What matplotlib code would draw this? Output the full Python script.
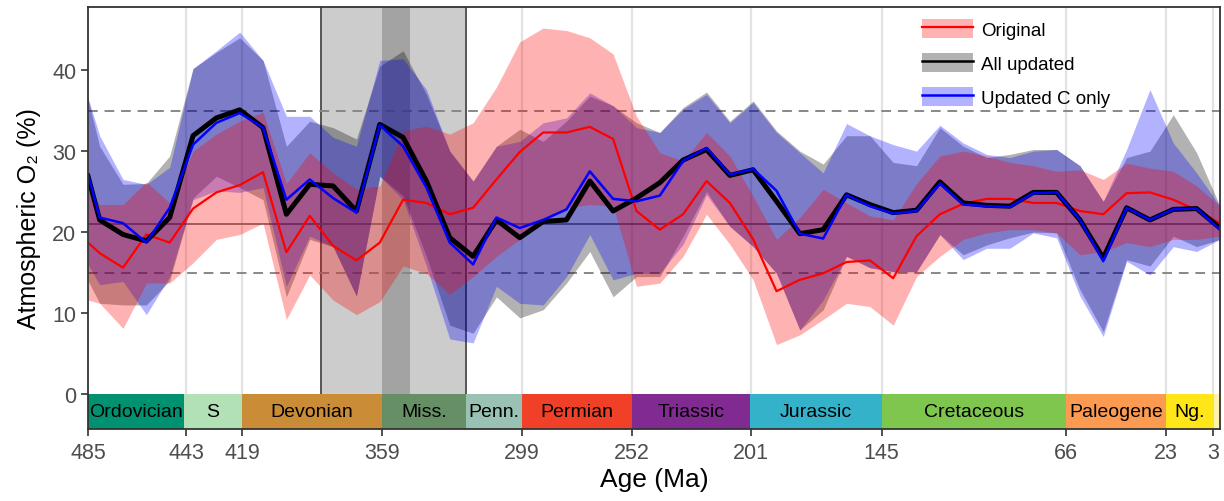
import matplotlib.pyplot as plt
from matplotlib.patches import Patch, Rectangle
from matplotlib.lines import Line2D

plt.rcParams['font.family'] = ['Liberation Sans', 'DejaVu Sans']

# ages (Ma)
age = [485, 480, 470, 460, 450, 440, 430, 420, 410, 400, 390, 380, 370, 360, 350, 340, 330, 320, 310, 300,
       290, 280, 270, 260, 250, 240, 230, 220, 210, 200, 190, 180, 170, 160, 150, 140, 130, 120, 110, 100,
       90, 80, 70, 60, 50, 40, 30, 20, 10, 0]

# Original
orig_mid = [18.7, 17.4, 15.6, 19.7, 18.7, 22.9, 24.9, 25.8, 27.4, 17.5, 22.0, 18.3, 16.5, 18.7, 24.0, 23.6, 22.2, 23.0, 26.5, 29.9,
            32.3, 32.3, 33.0, 31.5, 22.6, 20.3, 22.2, 26.3, 23.6, 19.1, 12.7, 14.1, 14.9, 16.3, 16.5, 14.3, 19.5, 22.2, 23.5, 24.1,
            24.1, 23.6, 23.6, 22.6, 22.2, 24.8, 24.9, 24.0, 22.7, 21.1]
orig_lo = [11.6, 11.2, 8.1, 13.7, 13.7, 16.2, 19.1, 19.7, 21.1, 9.2, 14.7, 11.6, 9.8, 11.4, 15.8, 14.9, 12.3, 14.5, 17.0, 19.1,
           21.3, 23.0, 23.4, 23.2, 13.3, 13.7, 17.0, 22.2, 18.5, 14.1, 6.1, 7.3, 9.2, 11.2, 10.8, 8.5, 14.5, 17.0, 19.1, 19.9,
           20.3, 20.3, 19.9, 17.2, 17.6, 18.7, 18.2, 19.1, 19.1, 19.5]
orig_hi = [25.3, 23.4, 23.4, 26.2, 23.6, 30.0, 32.1, 33.7, 34.8, 26.0, 29.8, 27.3, 25.3, 25.7, 32.5, 33.1, 32.1, 33.5, 37.9, 43.5,
           45.2, 44.9, 44.0, 42.0, 34.3, 29.8, 28.8, 32.3, 29.4, 24.4, 19.1, 21.8, 25.3, 23.6, 22.0, 21.5, 26.0, 29.4, 30.0, 29.4,
           28.6, 28.2, 27.5, 27.7, 26.5, 28.5, 27.9, 27.5, 25.7, 23.2]

# All updated
all_mid = [26.9, 21.5, 19.7, 18.9, 21.8, 31.9, 34.1, 35.1, 32.9, 22.2, 25.9, 25.7, 22.6, 33.3, 31.7, 26.3, 19.3, 17.0, 21.5, 19.3,
           21.3, 21.5, 26.3, 22.6, 24.2, 26.1, 28.9, 30.2, 27.0, 27.7, 23.8, 19.8, 20.3, 24.6, 23.4, 22.4, 22.7, 26.2, 23.6, 23.3,
           23.2, 24.9, 24.9, 21.5, 16.8, 23.0, 21.5, 22.8, 22.9, 20.5]
all_lo = [14.0, 11.2, 11.0, 11.0, 14.0, 24.2, 26.9, 25.5, 24.0, 12.0, 19.1, 18.2, 12.1, 26.9, 24.5, 17.0, 8.5, 7.5, 12.0, 9.4,
          10.4, 13.7, 17.6, 12.0, 14.5, 14.5, 19.5, 25.0, 20.7, 18.2, 14.9, 7.9, 10.4, 17.0, 15.6, 15.1, 15.1, 19.7, 17.2, 18.4,
          19.3, 20.0, 19.9, 12.9, 7.7, 16.6, 15.8, 19.5, 18.2, 19.1]
all_hi = [36.4, 30.6, 25.9, 26.0, 29.4, 40.2, 42.2, 44.0, 41.2, 30.6, 33.7, 32.9, 31.5, 40.5, 42.4, 37.0, 30.0, 26.3, 30.6, 32.7,
          31.2, 33.7, 36.8, 35.6, 33.5, 32.3, 35.4, 37.3, 33.7, 36.2, 32.5, 30.0, 28.4, 31.9, 31.9, 28.6, 28.2, 32.9, 30.6, 29.2,
          29.6, 30.2, 30.2, 28.2, 23.8, 29.2, 30.0, 34.5, 29.8, 23.2]

# Updated C only
c_mid = [27.1, 21.8, 21.1, 18.7, 23.0, 30.8, 33.5, 34.7, 32.9, 24.0, 26.5, 24.2, 22.4, 33.2, 30.6, 25.5, 18.7, 16.0, 21.8, 20.5,
         21.5, 22.8, 27.5, 24.1, 23.8, 24.5, 28.8, 30.4, 27.1, 27.8, 25.1, 19.8, 19.2, 24.6, 23.2, 22.3, 22.6, 26.0, 23.4, 23.2,
         23.1, 24.8, 24.9, 21.5, 16.4, 23.0, 21.5, 22.8, 22.9, 20.3]
c_lo = [16.0, 13.5, 13.9, 9.8, 14.5, 24.0, 25.1, 24.9, 25.5, 13.3, 19.5, 18.2, 12.1, 26.9, 24.0, 15.8, 6.8, 6.3, 13.3, 11.2,
        11.0, 14.5, 19.7, 14.1, 14.9, 14.9, 18.5, 24.6, 20.7, 18.2, 14.9, 7.9, 11.6, 17.0, 15.6, 15.1, 15.1, 19.7, 16.6, 18.0,
        18.0, 19.9, 19.3, 12.1, 7.1, 16.4, 14.7, 18.2, 17.6, 19.1]
c_hi = [36.6, 31.9, 26.5, 25.9, 28.0, 40.2, 42.4, 44.7, 41.2, 34.3, 34.3, 31.7, 30.6, 41.2, 41.4, 37.6, 30.0, 26.3, 30.6, 31.2,
        33.5, 34.1, 37.2, 35.6, 32.9, 32.3, 35.2, 37.0, 33.5, 36.0, 32.3, 29.8, 27.3, 33.4, 31.9, 30.8, 30.0, 33.2, 31.0, 29.6,
        29.2, 30.0, 30.2, 28.2, 23.8, 30.2, 37.6, 31.0, 27.3, 23.2]

# geologic periods
period_names = ['Ordovician', 'S', 'Devonian', 'Miss.', 'Penn.', 'Permian', 'Triassic', 'Jurassic',
                'Cretaceous', 'Paleogene', 'Ng.', '']
period_max = [485.4, 443.8, 419.2, 358.9, 323.2, 298.9, 251.9, 201.4, 145.0, 66.0, 23.03, 2.58]
period_min = [443.8, 419.2, 358.9, 323.2, 298.9, 251.9, 201.4, 145.0, 66.0, 23.03, 2.58, 0.0]
period_colors = ['#009270', '#B3E1B6', '#CB8C37', '#678F66', '#99C2B5', '#F04028', '#812B92', '#34B2C9',
                 '#7FC64E', '#FD9A52', '#FFE619', '#FDF2B0']

x_breaks = [485, 443, 419, 359, 299, 252, 201, 145, 66, 23, 3]

fig = plt.figure(figsize=(12.24, 5.02), dpi=100)
ax = fig.add_axes([0.0719, 0.1434, 0.9248, 0.8406])

ymin, ymax = -4.33, 47.8
xmax, xmin = 485, 0

# shaded intervals
ax.axvspan(323.2, 385, color='#CCCCCC', zorder=0.5, lw=0)
ax.axvspan(347, 358.9, color='#A3A3A3', zorder=0.6, lw=0)
for xv in [385, 323.2]:
    ax.axvline(xv, color='#555555', lw=1.4, zorder=0.7)

# gridlines
for xb in x_breaks[1:]:
    ax.axvline(xb, color='#E3E3E3', lw=1.6, zorder=0.2)

# reference lines
ax.axhline(21, color='#808080', lw=1.4, zorder=0.8)
ax.axhline(15, color='#888888', lw=1.4, ls=(0, (5, 3.5)), zorder=0.8)
ax.axhline(35, color='#888888', lw=1.4, ls=(0, (5, 3.5)), zorder=0.8)

# bands
ax.fill_between(age, all_lo, all_hi, color='black', alpha=0.3, lw=0, zorder=1)
ax.fill_between(age, c_lo, c_hi, color='blue', alpha=0.3, lw=0, zorder=1.1)
ax.fill_between(age, orig_lo, orig_hi, color='red', alpha=0.3, lw=0, zorder=1.2)

# lines
ax.plot(age, orig_mid, color='red', lw=1.6, zorder=2)
ax.plot(age, all_mid, color='black', lw=3.6, zorder=2.1)
ax.plot(age, c_mid, color='blue', lw=1.8, zorder=2.2)

# period bar
for name, a0, a1, col in zip(period_names, period_max, period_min, period_colors):
    left = min(a0, xmax)
    ax.add_patch(Rectangle((a1, ymin), left - a1, 0 - ymin, facecolor=col, edgecolor='none', zorder=3))
    if name:
        ax.text((left + a1) / 2, ymin / 2, name, ha='center', va='center', fontsize=14, color='black', zorder=4)

ax.set_xlim(xmax, xmin)
ax.set_ylim(ymin, ymax)
ax.set_xticks(x_breaks)
ax.set_xticklabels([str(b) for b in x_breaks])
ax.set_yticks([0, 10, 20, 30, 40])
ax.tick_params(axis='both', colors='#333333', labelcolor='#4D4D4D', labelsize=15.5, length=5, width=1.2)
ax.tick_params(axis='x', pad=4)
for s in ax.spines.values():
    s.set_color('#333333')
    s.set_linewidth(1.3)
    s.set_zorder(5)

ax.set_xlabel('Age (Ma)', fontsize=19, labelpad=3)
ax.set_ylabel('Atmospheric O\u2082 (%)', fontsize=18, labelpad=8)

handles = [
    (Patch(facecolor='red', alpha=0.3, lw=0), Line2D([], [], color='red', lw=1.6)),
    (Patch(facecolor='black', alpha=0.3, lw=0), Line2D([], [], color='black', lw=1.8)),
    (Patch(facecolor='blue', alpha=0.3, lw=0), Line2D([], [], color='blue', lw=1.8)),
]
leg = ax.legend(handles, ['Original', 'All updated', 'Updated C only'], loc='upper left',
                bbox_to_anchor=(0.722, 1.012), frameon=False, fontsize=13.5,
                handlelength=2.7, handleheight=1.2, labelspacing=0.75, handletextpad=0.45)
leg.set_zorder(6)

fig.savefig('out.png', dpi=100)
